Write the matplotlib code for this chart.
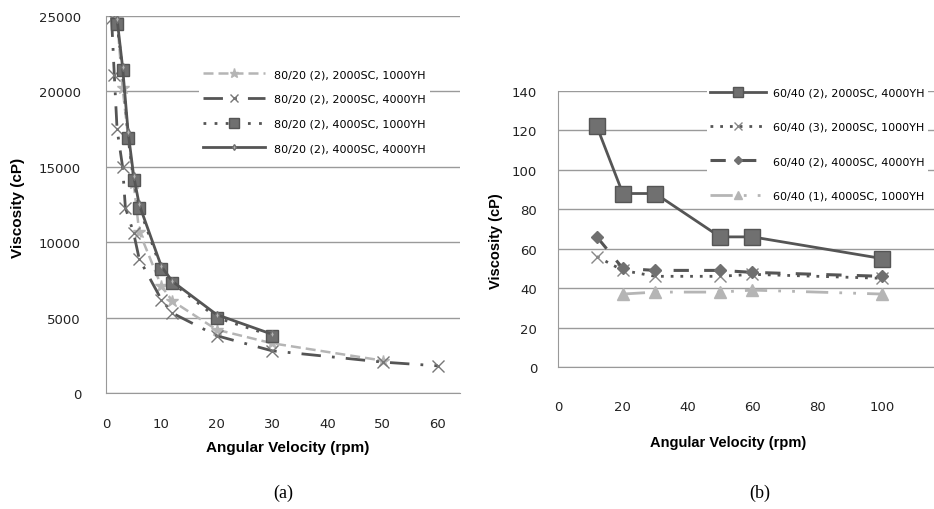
import matplotlib
matplotlib.use("Agg")
import matplotlib.pyplot as plt

# ---- panel (a) data: viscosity (cP) vs angular velocity (rpm)
a_rpm_1 = [2, 3, 4, 5, 6, 10, 12, 20, 30, 50]
a_vis_1 = [24800, 20200, 17000, 13900, 10700, 7100, 6100, 4200, 3300, 2150]
a_rpm_2 = [1, 1.5, 2, 3, 3.5, 5, 6, 10, 12, 20, 30, 50, 60]
a_vis_2 = [24900, 21100, 17500, 15000, 12300, 10600, 8900, 6200, 5300, 3800, 2800, 2050, 1800]
a_rpm_3 = [2, 3, 4, 5, 6, 10, 12, 20, 30]
a_vis_3 = [24500, 21400, 16900, 14100, 12300, 8200, 7300, 5000, 3800]
a_rpm_4 = [2, 3, 4, 5, 6, 10, 12, 20, 30]
a_vis_4 = [24800, 21600, 17300, 14400, 12500, 8400, 7400, 5200, 3900]
a_labels = ["80/20 (2), 2000SC, 1000YH", "80/20 (2), 2000SC, 4000YH",
            "80/20 (2), 4000SC, 1000YH", "80/20 (2), 4000SC, 4000YH"]

# ---- panel (b) data
b_rpm = [12, 20, 30, 50, 60, 100]
b_vis_1 = [122, 88, 88, 66, 66, 55]
b_vis_2 = [56, 49, 46, 46, 47, 45]
b_vis_3 = [66, 50, 49, 49, 48, 46]
b_rpm_4 = [20, 30, 50, 60, 100]
b_vis_4 = [37, 38, 38, 39, 37]
b_labels = ["60/40 (2), 2000SC, 4000YH", "60/40 (3), 2000SC, 1000YH",
            "60/40 (2), 4000SC, 4000YH", "60/40 (1), 4000SC, 1000YH"]

W, H = 934, 510
fig = plt.figure(figsize=(W / 100, H / 100), dpi=100)
plt.rcParams["font.family"] = ["DejaVu Sans"]

dark = "#555555"
mid = "#707070"
light = "#b5b5b5"
grid = "#9a9a9a"


def px_axes(l, t, r, b):
    return fig.add_axes([l / W, 1 - b / H, (r - l) / W, (b - t) / H])


def style(ax):
    ax.grid(axis="y", color=grid, lw=1)
    ax.set_axisbelow(True)
    for s in ["top", "right"]:
        ax.spines[s].set_visible(False)
    for s in ["left", "bottom"]:
        ax.spines[s].set_color("#999999")
    ax.tick_params(length=0, labelsize=9.5, colors="#222222")


# ---------------- (a)
ax1 = px_axes(106, 17, 460, 394)
ax1.plot(a_rpm_1, a_vis_1, color=light, ls=(0, (4, 2)), lw=1.8, marker="*",
         ms=9, mfc=light, mec=light, label=a_labels[0])
ax1.plot(a_rpm_2, a_vis_2, color=dark, ls=(0, (7, 4, 1, 4)), lw=2, marker="x",
         ms=8, mec="#777777", mew=1, label=a_labels[1])
ax1.plot(a_rpm_3, a_vis_3, color=dark, ls=(0, (1, 3)), lw=2, marker="s",
         ms=9, mfc=mid, mec=dark, label=a_labels[2])
ax1.plot(a_rpm_4, a_vis_4, color=dark, ls="-", lw=2, marker="d",
         ms=4, mfc=light, mec=mid, label=a_labels[3])
ax1.set_xlim(0, 64)
ax1.set_ylim(0, 25000)
ax1.set_xticks([0, 10, 20, 30, 40, 50, 60])
ax1.set_yticks([0, 5000, 10000, 15000, 20000, 25000])
style(ax1)
ax1.tick_params(axis="x", pad=17)
ax1.tick_params(axis="y", pad=18)
leg1 = ax1.legend(loc="upper left", bbox_to_anchor=(193 / W, 1 - 60 / H),
                  bbox_transform=fig.transFigure, fontsize=8, handlelength=5.6,
                  labelspacing=1.33, frameon=True, facecolor="white",
                  edgecolor="none", framealpha=1, borderpad=0.4,
                  handletextpad=0.8, numpoints=1, markerscale=0.75)
leg1.set_zorder(5)

fig.text(288 / W, 1 - 448 / H, "Angular Velocity (rpm)", ha="center",
         va="center", fontsize=11, fontweight="bold", family="Liberation Sans")
fig.text(18 / W, 1 - 208 / H, "Viscosity (cP)", ha="center", va="center",
         rotation=90, fontsize=11, fontweight="bold", family="Liberation Sans")

# ---------------- (b)
ax2 = px_axes(558, 92, 934, 368)
ax2.plot(b_rpm, b_vis_1, color=dark, ls="-", lw=2, marker="s", ms=11,
         mfc=mid, mec=dark, label=b_labels[0])
ax2.plot(b_rpm, b_vis_2, color=dark, ls=(0, (1, 2.5)), lw=2, marker="x",
         ms=9, mec="#888888", mew=1, label=b_labels[1])
ax2.plot(b_rpm, b_vis_3, color=dark, ls=(0, (5, 5)), lw=2.2, marker="D",
         ms=6, mfc=mid, mec=mid, label=b_labels[2])
ax2.plot(b_rpm_4, b_vis_4, color=light, ls=(0, (8, 4, 1, 4, 1, 4)), lw=2,
         marker="^", ms=8, mfc=light, mec=light, label=b_labels[3])
ax2.set_xlim(0, 116)
ax2.set_ylim(0, 140)
ax2.set_xticks([0, 20, 40, 60, 80, 100])
ax2.set_yticks(range(0, 141, 20))
style(ax2)
ax2.tick_params(axis="x", pad=24)
ax2.tick_params(axis="y", pad=15)
leg2 = ax2.legend(loc="upper left", bbox_to_anchor=(701 / W, 1 - 79 / H),
                  bbox_transform=fig.transFigure, fontsize=8, handlelength=5.0,
                  labelspacing=2.2, frameon=True, facecolor="white",
                  edgecolor="none", framealpha=1, borderpad=0.35,
                  handletextpad=0.6, numpoints=1, markerscale=0.65)
leg2.set_zorder(5)

fig.text(728 / W, 1 - 443 / H, "Angular Velocity (rpm)", ha="center",
         va="center", fontsize=10.5, fontweight="bold", family="Liberation Sans")
fig.text(496 / W, 1 - 241 / H, "Viscosity (cP)", ha="center", va="center",
         rotation=90, fontsize=10.5, fontweight="bold", family="Liberation Sans")

# captions
fig.text(283 / W, 1 - 493 / H, "(a)", ha="center", va="center", fontsize=13,
         family="Liberation Serif")
fig.text(760 / W, 1 - 493 / H, "(b)", ha="center", va="center", fontsize=13,
         family="Liberation Serif")

fig.savefig("out.png", dpi=100)
